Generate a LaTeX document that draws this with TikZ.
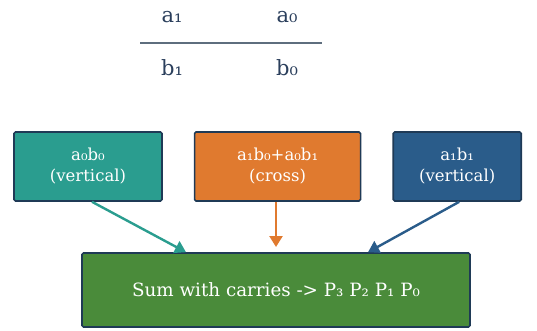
\documentclass[tikz,border=0pt]{standalone}
\usepackage{fontspec}
\setmainfont{DejaVu Serif}
\usetikzlibrary{arrows.meta,positioning}
\definecolor{inkline}{HTML}{1F3A56}
\definecolor{ruleline}{HTML}{5E6E7E}
\definecolor{digitink}{HTML}{2B3F5C}
\definecolor{tealbg}{HTML}{2A9D8F}
\definecolor{orangebg}{HTML}{E07A2F}
\definecolor{bluebg}{HTML}{2A5C8A}
\definecolor{greenbg}{HTML}{4A8B3A}

\tikzset{
  partbox/.style={draw=inkline, line width=1.6pt, rounded corners=1.5pt, text=white,
    minimum height=69pt, align=center, font=\fontsize{16.5}{21}\selectfont},
  digit/.style={text=digitink, font=\fontsize{21}{24}\selectfont},
  feed/.style={line width=2.4pt, -{Triangle[width=13pt,length=11pt]}}
}

\begin{document}
\begin{tikzpicture}[x=1pt, y=-1pt]
  \useasboundingbox (0,0) rectangle (537,330);
  % the two digits over the two digits
  \node[digit] (a1) at (172,17) {a₁};
  \node[digit] (a0) at (287,17) {a₀};
  \node[digit] (b1) at (172,68) {b₁};
  \node[digit] (b0) at (287,68) {b₀};
  \coordinate (ruleL) at (140,43);
  \coordinate (ruleR) at (322,43);
  \draw[ruleline, line width=1.6pt] (ruleL) -- (ruleR);

  % partial products
  \node[partbox, fill=tealbg, minimum width=148pt] (low) at (88,166.5) {a₀b₀\\(vertical)};
  \node[partbox, fill=orangebg, minimum width=166pt, right=31pt of low] (mid) {a₁b₀+a₀b₁\\(cross)};
  \node[partbox, fill=bluebg, minimum width=128pt, right=31pt of mid] (high) {a₁b₁\\(vertical)};
  \node[partbox, fill=greenbg, minimum width=388pt, minimum height=74pt,
    font=\fontsize{18.3}{22}\selectfont] (sum) at (276,290)
    {Sum with carries -> P₃ P₂ P₁ P₀};

  \coordinate (midtip) at (276,247);
  \draw[feed, tealbg] ([xshift=4pt]low.south) -- ([xshift=-90pt]sum.north);
  \draw[feed, orangebg] (mid.south -| midtip) -- (midtip);
  \draw[feed, bluebg] ([xshift=2pt]high.south) -- ([xshift=92pt]sum.north);
\end{tikzpicture}
\end{document}
